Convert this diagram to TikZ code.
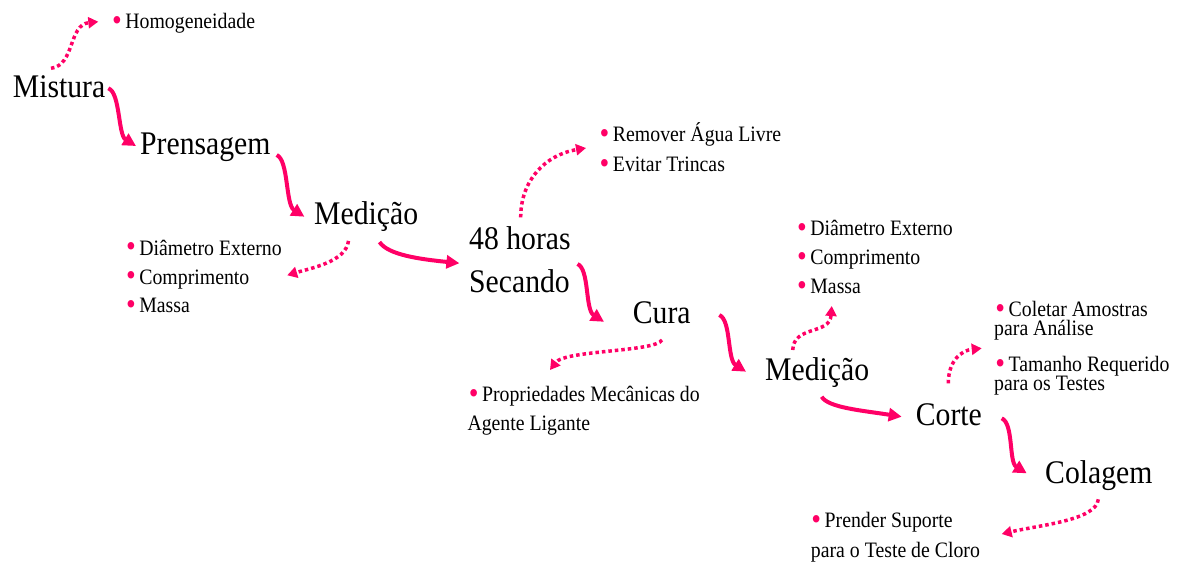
\documentclass[tikz,border=0pt]{standalone}
\usepackage{fontspec}
\setmainfont[FakeStretch=0.9]{Liberation Serif}
\usetikzlibrary{arrows.meta}
\definecolor{pk}{RGB}{255,0,102}
\newcommand\bul{\makebox[6.8pt][c]{\textcolor{pk}{\fontsize{31}{31}\selectfont\raisebox{-1.8pt}{•}}}\ }
\tikzset{
  big/.style={font=\fontsize{33}{36}\selectfont, anchor=base west, inner sep=0pt},
  small/.style={font=\fontsize{22}{24}\selectfont, anchor=base west, inner sep=0pt},
  flow/.style={draw=pk, line width=4pt, -{Triangle[length=13pt,width=13pt]}},
  note/.style={draw=pk, line width=3.5pt, dash pattern=on 3.5pt off 3pt, -{Triangle[length=10pt,width=11pt]}}
}
\begin{document}
\begin{tikzpicture}[x=1pt,y=-1pt]
\useasboundingbox (0,0) rectangle (1182,563);
% main steps
\node[big] (mis) at (12.7,97.7) {Mistura};
\node[big] (pre) at (140,154) {Prensagem};
\node[big] (med1) at (314,224.7) {Medição};
\node[big] (h48) at (469,249.5) {48 horas};
\node[big] (sec) at (469,292.5) {Secando};
\node[big] (cura) at (632.7,323.3) {Cura};
\node[big] (med2) at (765,380) {Medição};
\node[big] (corte) at (915.7,425.7) {Corte};
\node[big] (col) at (1045,483.3) {Colagem};
% notes
\node[small] (hom) at (113.4,28.3) {\bul Homogeneidade};
\node[small] (rem) at (601,141.7) {\bul Remover Água Livre};
\node[small] (evi) at (601,171.3) {\bul Evitar Trincas};
\node[small] (da) at (127.4,255) {\bul Diâmetro Externo};
\node[small] (ca) at (127.4,284) {\bul Comprimento};
\node[small] (ma) at (127.4,312.7) {\bul Massa};
\node[small] (prop) at (470.1,401.7) {\bul Propriedades Mecânicas do};
\node[small] (propb) at (467.3,430.7) {Agente Ligante};
\node[small] (db) at (798.4,235.7) {\bul Diâmetro Externo};
\node[small] (cb) at (798.4,264.3) {\bul Comprimento};
\node[small] (mb) at (798.4,293.3) {\bul Massa};
\node[small] (colet) at (996.7,316.7) {\bul Coletar Amostras};
\node[small] (coletb) at (994,335.7) {para Análise};
\node[small] (tam) at (996.7,371.7) {\bul Tamanho Requerido};
\node[small] (tamb) at (994,390.7) {para os Testes};
\node[small] (pren) at (812.7,527.3) {\bul Prender Suporte};
\node[small] (prenb) at (810.7,557.3) {para o Teste de Cloro};
% flow arrows
\draw[flow] ([shift={(95.6,-9.4)}]mis.base west) .. controls +(12,4) and +(-18,-11) .. ([shift={(-4,-8)}]pre.base west);
\draw[flow] ([shift={(136.7,1)}]pre.base west) .. controls +(12,5) and +(-19,-12) .. ([shift={(-9.6,-8)}]med1.base west);
\draw[flow] ([shift={(65.5,17.3)}]med1.base west) .. controls +(8.5,13) and +(-39,-4) .. ([shift={(-9.6,13.7)}]h48.base west);
\draw[flow] ([shift={(108.5,-28.5)}]sec.base west) .. controls +(12,5) and +(-19,-12) .. ([shift={(-28.7,-1.5)}]cura.base west);
\draw[flow] ([shift={(86.6,-8.3)}]cura.base west) .. controls +(12,5) and +(-19,-12) .. ([shift={(-19,-8.3)}]med2.base west);
\draw[flow] ([shift={(56.7,16.7)}]med2.base west) .. controls +(6,11) and +(-38,-6) .. ([shift={(-14,-9)}]corte.base west);
\draw[flow] ([shift={(86,-7.4)}]corte.base west) .. controls +(12,5) and +(-18,-11) .. ([shift={(-18.3,-10)}]col.base west);
% note arrows
\draw[note] ([shift={(38.3,-29.4)}]mis.base west) .. controls +(24,-3) and +(-30,3) .. ([shift={(-15.1,-6.6)}]hom.base west);
\draw[note] ([shift={(34.5,16.2)}]med1.base west) .. controls +(-2.5,21) and +(23,-7) .. ([shift={(159.8,-8.7)}]ca.base west);
\draw[note] ([shift={(51.7,-32.1)}]h48.base west) .. controls +(0,-37) and +(-41,7) .. ([shift={(-15,6.3)}]rem.base west);
\draw[note] ([shift={(29.3,16.7)}]cura.base west) .. controls +(-7,12) and +(15,-20) .. ([shift={(79.9,-31.7)}]prop.base west);
\draw[note] ([shift={(27.7,-30)}]med2.base west) .. controls +(1,-25) and +(-2,29) .. ([shift={(33.3,12.7)}]mb.base west);
\draw[note] ([shift={(32.6,-42.4)}]corte.base west) .. controls +(0,-23) and +(-20,2) .. ([shift={(-12.3,12.6)}]coletb.base west);
\draw[note] ([shift={(53.3,16)}]col.base west) .. controls +(-2,21) and +(38,-9) .. ([shift={(189,6.7)}]pren.base west);
\end{tikzpicture}
\end{document}
